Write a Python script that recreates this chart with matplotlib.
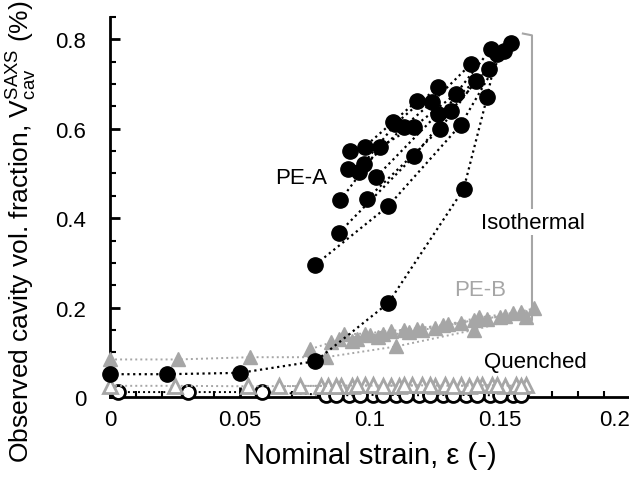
import matplotlib
matplotlib.use('Agg')
import matplotlib.pyplot as plt
from matplotlib.ticker import MultipleLocator, FixedLocator

plt.rcParams['font.family'] = ['Liberation Sans', 'DejaVu Sans']
plt.rcParams['mathtext.default'] = 'regular'

# PE-A, isothermal (filled black circles), one list per test
pea_iso_x = [
    [0.000, 0.022, 0.050, 0.079, 0.107, 0.136, 0.145, 0.1487],
    [0.079, 0.107, 0.1349, 0.1514],
    [0.088, 0.1168, 0.131, 0.1541],
    [0.099, 0.127, 0.1407],
    [0.1025, 0.126, 0.1457],
    [0.0886, 0.104, 0.1168, 0.133, 0.1464],
    [0.0956, 0.1129, 0.124, 0.1387],
    [0.0917, 0.0975, 0.1098, 0.126],
    [0.0925, 0.098, 0.109, 0.118],
]
pea_iso_y = [
    [0.051, 0.051, 0.054, 0.080, 0.210, 0.465, 0.670, 0.767],
    [0.296, 0.427, 0.609, 0.773],
    [0.367, 0.538, 0.640, 0.791],
    [0.444, 0.600, 0.707],
    [0.493, 0.633, 0.733],
    [0.440, 0.560, 0.604, 0.678, 0.778],
    [0.504, 0.604, 0.660, 0.744],
    [0.511, 0.522, 0.611, 0.693],
    [0.551, 0.560, 0.616, 0.662],
]

# PE-B, isothermal (filled grey triangles)
peb_iso_x = [
    [0.000, 0.026, 0.054, 0.083, 0.110, 0.140, 0.160],
    [0.077, 0.085, 0.095, 0.105, 0.120, 0.135, 0.150, 0.163],
    [0.088, 0.100, 0.113, 0.128, 0.142, 0.158],
    [0.090, 0.098, 0.108, 0.118, 0.130, 0.145, 0.155],
    [0.093, 0.103, 0.115, 0.125, 0.140, 0.152],
]
peb_iso_y = [
    [0.084, 0.084, 0.089, 0.089, 0.113, 0.150, 0.180],
    [0.107, 0.122, 0.130, 0.140, 0.150, 0.165, 0.180, 0.198],
    [0.130, 0.138, 0.150, 0.160, 0.178, 0.190],
    [0.140, 0.142, 0.148, 0.153, 0.163, 0.175, 0.188],
    [0.125, 0.135, 0.145, 0.155, 0.172, 0.182],
]

# quenched samples (open markers)
peb_q_x = [
    [0.000, 0.025, 0.053, 0.081, 0.089, 0.098, 0.108, 0.116, 0.125, 0.135, 0.143, 0.152, 0.160],
    [0.065, 0.084, 0.093, 0.101, 0.111, 0.120, 0.129, 0.138, 0.147, 0.156],
    [0.073, 0.087, 0.095, 0.105, 0.113, 0.123, 0.132, 0.141, 0.149, 0.158],
]
peb_q_y = [
    [0.025, 0.025, 0.024, 0.025, 0.025, 0.026, 0.025, 0.026, 0.025, 0.026, 0.026, 0.025, 0.026],
    [0.024, 0.025, 0.025, 0.026, 0.025, 0.026, 0.026, 0.025, 0.026, 0.026],
    [0.025, 0.025, 0.026, 0.025, 0.026, 0.026, 0.025, 0.026, 0.026, 0.025],
]
pea_q_x = [
    [0.003, 0.030, 0.0585, 0.083, 0.092, 0.101, 0.110, 0.119, 0.128, 0.137, 0.146, 0.155],
    [0.087, 0.096, 0.105, 0.114, 0.123, 0.132, 0.141, 0.150, 0.158],
]
pea_q_y = [
    [0.011, 0.011, 0.011, 0.005, 0.005, 0.005, 0.004, 0.005, 0.005, 0.004, 0.005, 0.005],
    [0.004, 0.004, 0.005, 0.004, 0.004, 0.005, 0.004, 0.004, 0.005],
]

grey = '#a6a6a6'
dots = (0, (1, 1.6))

fig = plt.figure(figsize=(6.29, 4.81), dpi=100)
ax = fig.add_axes([110/629, 83/481, 520/629, 380/481])

for xs, ys in zip(pea_q_x, pea_q_y):
    ax.plot(xs, ys, ls=dots, lw=1.4, color='k', marker='o', ms=10,
            mfc='white', mec='k', mew=2, clip_on=False, zorder=3)
for xs, ys in zip(peb_q_x, peb_q_y):
    ax.plot(xs, ys, ls=dots, lw=1.4, color=grey, marker='^', ms=10,
            mfc='white', mec=grey, mew=2, clip_on=False, zorder=3.5)
for xs, ys in zip(peb_iso_x, peb_iso_y):
    ax.plot(xs, ys, ls=dots, lw=1.4, color=grey, marker='^', ms=10,
            mfc=grey, mec=grey, clip_on=False, zorder=4)
for xs, ys in zip(pea_iso_x, pea_iso_y):
    ax.plot(xs, ys, ls=dots, lw=1.6, color='k', marker='o', ms=11,
            mfc='k', mec='k', clip_on=False, zorder=5)

# bracket marking the isothermal group
bx, by0, by1, hook = 0.1623, 0.172, 0.809, 0.0035
ax.plot([bx - hook, bx, bx, bx - hook], [by1 + 0.004, by1, by0, by0 - 0.004],
        color=grey, lw=1.5, clip_on=False, zorder=2)

fs = 16
ax.text(0.0735, 0.492, 'PE-A', fontsize=fs, ha='center', va='center')
ax.text(0.1423, 0.241, 'PE-B', fontsize=fs, ha='center', va='center', color=grey)
ax.text(0.1627, 0.391, 'Isothermal', fontsize=fs, ha='center', va='center',
        bbox=dict(fc='white', ec='none', pad=2), zorder=6)
ax.text(0.1635, 0.080, 'Quenched', fontsize=fs, ha='center', va='center')

ax.set_xlim(0, 0.2)
ax.set_ylim(0, 0.85)
ax.xaxis.set_major_locator(FixedLocator([0, 0.05, 0.1, 0.15, 0.2]))
ax.xaxis.set_minor_locator(MultipleLocator(0.01))
ax.yaxis.set_major_locator(FixedLocator([0, 0.2, 0.4, 0.6, 0.8]))
ax.yaxis.set_minor_locator(MultipleLocator(0.05))
ax.set_xticklabels(['0', '0.05', '0.1', '0.15', '0.2'])
ax.set_yticklabels(['0', '0.2', '0.4', '0.6', '0.8'])
ax.get_xticklabels()[-1].set_horizontalalignment('right')

for side in ('top', 'right'):
    ax.spines[side].set_visible(False)
for side in ('left', 'bottom'):
    ax.spines[side].set_linewidth(2)
ax.tick_params(which='major', direction='in', length=7, width=2, labelsize=fs)
ax.tick_params(which='minor', direction='in', length=4, width=1.5)
ax.tick_params(axis='y', which='major', pad=17)
ax.tick_params(axis='x', which='major', pad=9)

ax.set_xlabel('Nominal strain, \u03b5 (-)', fontsize=21)
ax.set_ylabel(r'Observed cavity vol. fraction, $V_{cav}^{SAXS}$ (%)', fontsize=19)
ax.xaxis.set_label_coords(0.5, -0.116)
ax.yaxis.set_label_coords(-0.137, 0.437)

fig.savefig('out.png', dpi=100)
